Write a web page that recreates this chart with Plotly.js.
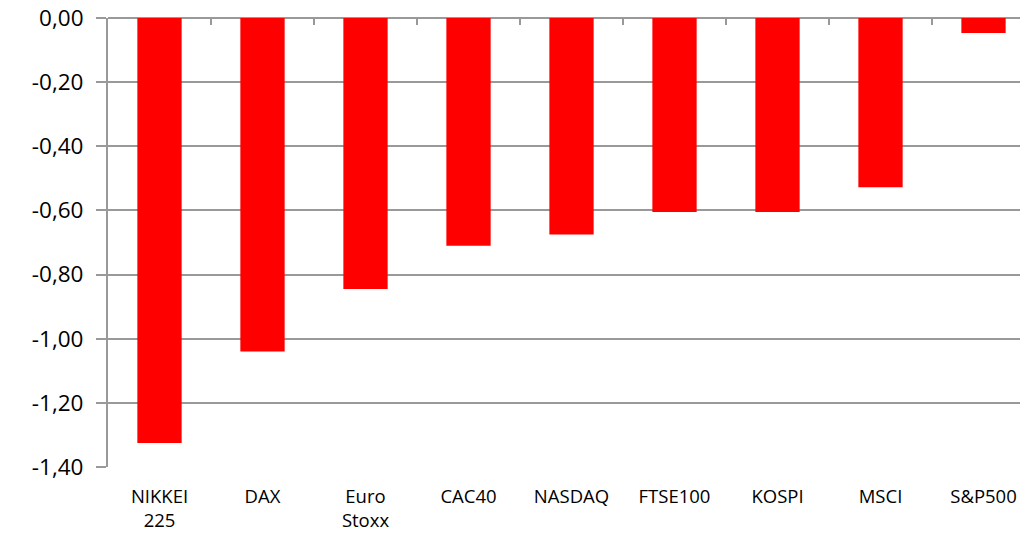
<!DOCTYPE html>
<html><head><meta charset="utf-8">
<script src="https://cdn.plot.ly/plotly-3.0.1.min.js"></script>
<style>html,body{margin:0;padding:0;overflow:hidden;background:#fff;}#chart{width:1040px;height:539px;}</style>
</head><body><div id="chart"></div>
<script>
const categories = ["NIKKEI<br>225","DAX","Euro<br>Stoxx","CAC40","NASDAQ","FTSE100","KOSPI","MSCI","S&P500"];
const values = [-1.325, -1.04, -0.845, -0.71, -0.675, -0.605, -0.605, -0.528, -0.047];
const yTickVals = [0, -0.2, -0.4, -0.6, -0.8, -1.0, -1.2, -1.4];
const yTickText = ["0,00","-0,20","-0,40","-0,60","-0,80","-1,00","-1,20","-1,40"];

const idx = categories.map((c,i)=>i);
const boundaries = categories.map((c,i)=>i-0.5).concat([categories.length-0.5]);

const data = [
  {type:'bar', x: idx, y: values, marker:{color:'#ff0000'}, hoverinfo:'x+y'},
  {type:'scatter', x: boundaries, y: boundaries.map(()=>0), xaxis:'x2', mode:'lines', line:{color:'rgba(0,0,0,0)'}, hoverinfo:'skip', showlegend:false}
];
const layout = {
  width:1040, height:539,
  margin:{l:108, r:5, t:18, b:72},
  paper_bgcolor:'#fff', plot_bgcolor:'rgba(0,0,0,0)',
  showlegend:false, bargap:0.57,
  font:{family:'"Open Sans", Lato, sans-serif', color:'#000'},
  xaxis:{range:[-0.5, categories.length-0.5], tickvals: idx, ticktext: categories, ticks:'', showgrid:false, zeroline:false, showline:false,
         tickfont:{size:18.5, color:'#000'}, ticklabelstandoff:16, fixedrange:true},
  xaxis2:{overlaying:'x', side:'top', range:[-0.5, categories.length-0.5], tickvals: boundaries, ticks:'inside', ticklen:7, tickwidth:2, tickcolor:'#999',
          showticklabels:false, showgrid:false, zeroline:false, showline:false},
  yaxis:{range:[-1.4, 0], tickvals:yTickVals, ticktext:yTickText, showgrid:true, gridcolor:'#999', gridwidth:2,
         showline:true, linecolor:'#999', linewidth:2, ticks:'outside', ticklen:10, tickwidth:2, tickcolor:'#999',
         zeroline:true, zerolinecolor:'#999', zerolinewidth:2, tickfont:{size:22.5, color:'#000'}, ticklabelstandoff:8}
};
Plotly.newPlot('chart', data, layout, {displayModeBar:false, staticPlot:true});
</script></body></html>
